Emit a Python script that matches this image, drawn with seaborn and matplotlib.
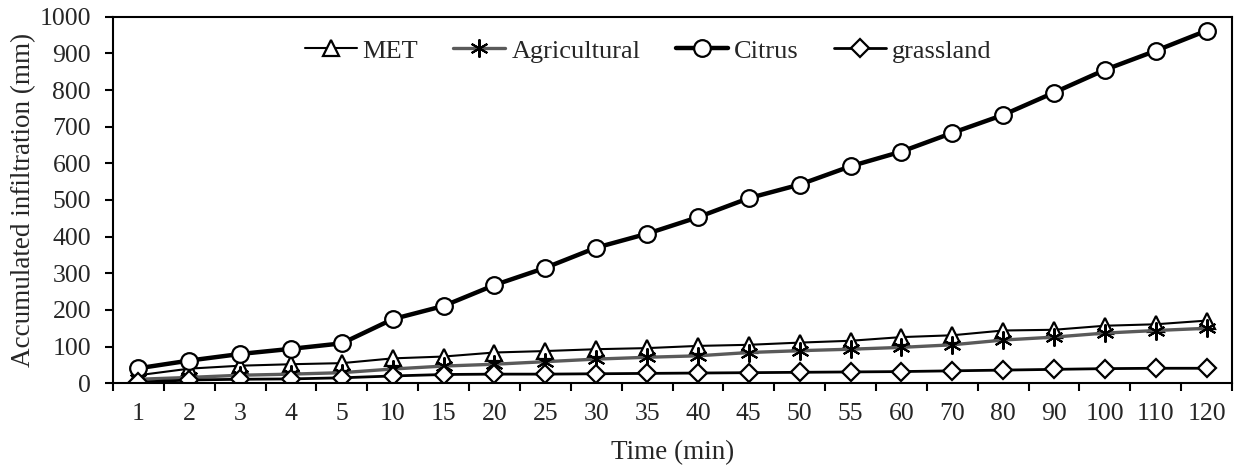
import matplotlib
matplotlib.use("Agg")
import matplotlib.pyplot as plt
import seaborn as sns
import numpy as np
import pandas as pd

time_labels = ["1", "2", "3", "4", "5", "10", "15", "20", "25", "30", "35", "40",
               "45", "50", "55", "60", "70", "80", "90", "100", "110", "120"]
met = [22, 40, 48, 52, 55, 68, 73, 84, 88, 93, 96, 102, 105, 111, 116, 126, 131, 144, 146, 157, 161, 171]
agricultural = [11, 16, 22, 25, 29, 39, 47, 52, 59, 66, 71, 75, 84, 89, 93, 98, 105, 118, 126, 137, 144, 150]
citrus = [41, 62, 80, 94, 109, 175, 211, 268, 315, 370, 408, 453, 505, 542, 592, 632, 683, 732, 793, 855, 907, 962]
grassland = [3, 9, 11, 12, 15, 20, 24, 25, 25, 26, 27, 28, 29, 30, 31, 32, 34, 36, 38, 40, 41, 41]
y_ticks = [0, 100, 200, 300, 400, 500, 600, 700, 800, 900, 1000]

sns.set_theme(style="white")
plt.rcParams['font.family'] = ['Liberation Serif', 'DejaVu Serif']

fig = plt.figure(figsize=(12.38, 4.67), dpi=100)
ax = fig.add_axes([113 / 1238, 1 - 383.3 / 467, 1119 / 1238, 366.6 / 467])

pos = np.arange(len(time_labels))
series = [
    ("MET", met, "^", "black", 1.5, 12),
    ("Agricultural", agricultural, (6, 2, 0), "#5a5a5a", 2.4, 13),
    ("Citrus", citrus, "o", "black", 3.2, 12),
    ("grassland", grassland, "D", "black", 2.0, 9),
]
for name, vals, mk, col, lw, ms in series:
    df = pd.DataFrame({"x": pos, "y": vals})
    if name == "Agricultural":
        sns.lineplot(data=df, x="x", y="y", ax=ax, color=col, linewidth=lw, label=name,
                     marker=mk, markersize=ms, markeredgecolor="black", markeredgewidth=1.5)
    else:
        sns.lineplot(data=df, x="x", y="y", ax=ax, color=col, linewidth=lw, label=name,
                     marker=mk, markersize=ms, markerfacecolor="white",
                     markeredgecolor="black", markeredgewidth=1.6)

ax.set_xlim(-0.5, len(time_labels) - 0.5)
ax.set_ylim(0, 1000)
ax.set_yticks(y_ticks)
ax.set_yticklabels([str(t) for t in y_ticks], fontsize=18.5)
ax.set_xticks(pos)
ax.set_xticklabels(time_labels, fontsize=18.5)
ax.set_xticks(np.arange(-0.5, len(time_labels), 1.0), minor=True)
ax.tick_params(axis="x", which="major", length=0, pad=14)
ax.tick_params(axis="x", which="minor", length=5.5, width=1.5, direction="out", color="black", bottom=True)
ax.tick_params(axis="y", which="major", length=5.8, width=1.5, direction="out", color="black", left=True, pad=10)
for s in ax.spines.values():
    s.set_color("black")
    s.set_linewidth(1.5)
ax.set_xlabel("Time (min)", fontsize=19.5, labelpad=11)
ax.set_ylabel("Accumulated infiltration (mm)", fontsize=19.5, labelpad=2.5)
ax.grid(False)
leg = ax.legend(loc="center", bbox_to_anchor=(0.478, 0.907), ncol=4, frameon=False,
                fontsize=19, handlelength=1.97, columnspacing=1.33, handletextpad=0.23,
                borderpad=0.2)

fig.savefig("out.png", dpi=100)
